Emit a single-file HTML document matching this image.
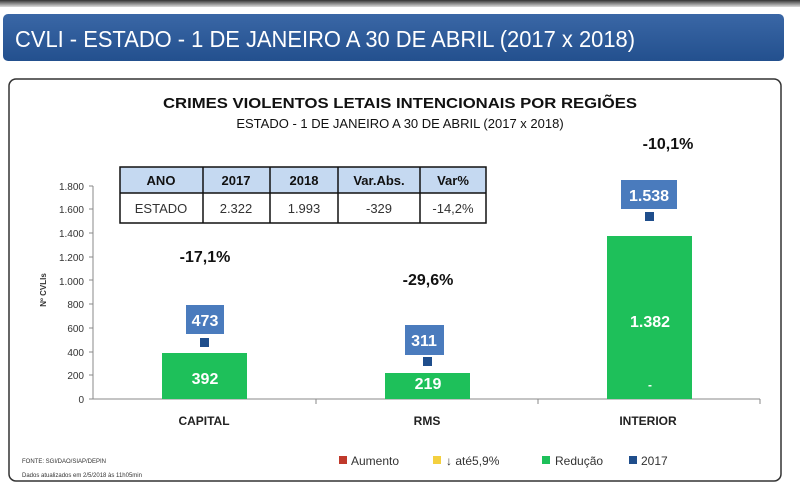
<!DOCTYPE html>
<html><head><meta charset="utf-8"><style>
body{margin:0;width:800px;height:491px;overflow:hidden;background:#fff;font-family:"Liberation Sans",sans-serif}
svg text{font-family:"Liberation Sans",sans-serif}
</style></head><body>
<svg width="800" height="491" viewBox="0 0 800 491" xmlns="http://www.w3.org/2000/svg">
<defs>
<linearGradient id="top" x1="0" y1="0" x2="0" y2="1"><stop offset="0" stop-color="#333"/><stop offset="1" stop-color="#ddd"/></linearGradient>
<linearGradient id="hb" x1="0" y1="0" x2="0" y2="1"><stop offset="0" stop-color="#3a67a6"/><stop offset="1" stop-color="#23508e"/></linearGradient>
</defs>
<rect x="0" y="0" width="800" height="7" fill="url(#top)"/>
<rect x="3" y="14" width="781" height="47" rx="5" fill="url(#hb)"/>
<text x="15" y="47" font-size="23" fill="#fff" textLength="620" lengthAdjust="spacingAndGlyphs">CVLI - ESTADO - 1 DE JANEIRO A 30 DE ABRIL (2017 x 2018)</text>
<rect x="9" y="79" width="772" height="402" rx="7" fill="#fff" stroke="#333" stroke-width="1.5"/>
<text x="400" y="108" font-size="15" font-weight="bold" text-anchor="middle" fill="#111" textLength="474" lengthAdjust="spacingAndGlyphs">CRIMES VIOLENTOS LETAIS INTENCIONAIS POR REGIÕES</text>
<text x="400" y="128" font-size="13" text-anchor="middle" fill="#111">ESTADO - 1 DE JANEIRO A 30 DE ABRIL (2017 x 2018)</text>
<g font-size="10" fill="#333" text-anchor="end">
<text x="84" y="403">0</text><text x="84" y="379">200</text><text x="84" y="356">400</text><text x="84" y="332">600</text><text x="84" y="308">800</text><text x="84" y="285">1.000</text><text x="84" y="261">1.200</text><text x="84" y="237">1.400</text><text x="84" y="213">1.600</text><text x="84" y="190">1.800</text>
</g>
<g stroke="#888" stroke-width="1">
<line x1="93" y1="186" x2="93" y2="399"/>
<line x1="93" y1="399" x2="760" y2="399"/>
<line x1="89" y1="399" x2="93" y2="399"/><line x1="89" y1="375" x2="93" y2="375"/><line x1="89" y1="352" x2="93" y2="352"/><line x1="89" y1="328" x2="93" y2="328"/><line x1="89" y1="304" x2="93" y2="304"/><line x1="89" y1="280" x2="93" y2="280"/><line x1="89" y1="257" x2="93" y2="257"/><line x1="89" y1="233" x2="93" y2="233"/><line x1="89" y1="209" x2="93" y2="209"/><line x1="89" y1="186" x2="93" y2="186"/>
<line x1="316" y1="399" x2="316" y2="404"/><line x1="538" y1="399" x2="538" y2="404"/><line x1="760" y1="399" x2="760" y2="404"/>
</g>
<text x="46" y="290" font-size="8" font-weight="bold" fill="#333" transform="rotate(-90 46 290)" text-anchor="middle">Nº CVLIs</text>
<rect x="162" y="353" width="85" height="46" fill="#1ec05a"/>
<rect x="385" y="373" width="85" height="26" fill="#1ec05a"/>
<rect x="607" y="236" width="85" height="163" fill="#1ec05a"/>
<g fill="#fff" font-size="16" font-weight="bold" text-anchor="middle">
<text x="205" y="384">392</text><text x="428" y="389">219</text><text x="650" y="327">1.382</text><text x="650" y="389" font-size="12">-</text>
</g>
<rect x="200" y="338" width="9" height="9" fill="#1f4e8c"/>
<rect x="423" y="357" width="9" height="9" fill="#1f4e8c"/>
<rect x="645" y="212" width="9" height="9" fill="#1f4e8c"/>
<rect x="186" y="305" width="38" height="29" fill="#4a7bbd"/>
<rect x="405" y="325" width="39" height="30" fill="#4a7bbd"/>
<rect x="621" y="180" width="56" height="29" fill="#4a7bbd"/>
<g fill="#fff" font-size="16" font-weight="bold" text-anchor="middle">
<text x="205" y="326">473</text><text x="424" y="346">311</text><text x="649" y="201">1.538</text>
</g>
<g font-size="16" font-weight="bold" text-anchor="middle" fill="#111">
<text x="205" y="262">-17,1%</text><text x="428" y="285">-29,6%</text><text x="668" y="149">-10,1%</text>
</g>
<g font-size="12" font-weight="bold" text-anchor="middle" fill="#222">
<text x="204" y="425">CAPITAL</text><text x="427" y="425">RMS</text><text x="648" y="425">INTERIOR</text>
</g>
<rect x="120" y="167" width="366" height="26" fill="#c5d9f1"/>
<g stroke="#111" stroke-width="1.5" fill="none">
<rect x="120" y="167" width="366" height="56"/>
<line x1="120" y1="193" x2="486" y2="193"/>
<line x1="203" y1="167" x2="203" y2="223"/><line x1="270" y1="167" x2="270" y2="223"/><line x1="338" y1="167" x2="338" y2="223"/><line x1="420" y1="167" x2="420" y2="223"/>
</g>
<g font-size="13" text-anchor="middle" fill="#111">
<text x="161" y="185" font-weight="bold">ANO</text><text x="236" y="185" font-weight="bold">2017</text><text x="304" y="185" font-weight="bold">2018</text><text x="379" y="185" font-weight="bold">Var.Abs.</text><text x="453" y="185" font-weight="bold">Var%</text>
<text x="161" y="213" fill="#333">ESTADO</text><text x="236" y="213" fill="#333">2.322</text><text x="304" y="213" fill="#333">1.993</text><text x="379" y="213" fill="#333">-329</text><text x="453" y="213" fill="#333">-14,2%</text>
</g>
<rect x="339" y="456" width="8" height="8" fill="#c0392b"/><text x="351" y="465" font-size="12" fill="#333">Aumento</text>
<rect x="433" y="456" width="8" height="8" fill="#f4d03f"/><text x="446" y="465" font-size="12" fill="#333">↓ até5,9%</text>
<rect x="542" y="456" width="8" height="8" fill="#1ec05a"/><text x="555" y="465" font-size="12" fill="#333">Redução</text>
<rect x="629" y="456" width="8" height="8" fill="#1f4e8c"/><text x="641" y="465" font-size="12" fill="#333">2017</text>
<text x="22" y="463" font-size="6" fill="#333">FONTE: SGI/DAO/SIAP/DEPIN</text>
<text x="22" y="477" font-size="6" fill="#333">Dados atualizados em 2/5/2018 às 11h05min</text>
</svg>
</body></html>
